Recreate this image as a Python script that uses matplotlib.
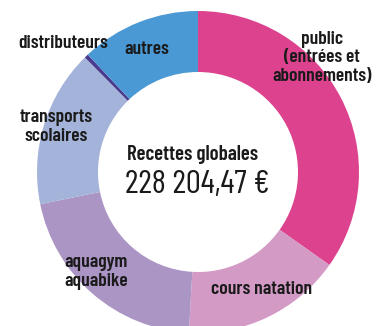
import matplotlib.pyplot as plt

# recettes de la piscine, part de chaque poste (%)
labels = ["public (entrées et abonnements)", "cours natation", "aquagym aquabike",
          "transports scolaires", "distributeurs", "autres"]
shares = [34.8, 16.1, 20.9, 15.8, 0.4, 12.0]
colors = ["#dc428e", "#d39ac6", "#ab95c5", "#a3b3d9", "#4a3b8f", "#4a98d4"]
total_label = "228 204,47 €"

W, H = 384, 326
fig = plt.figure(figsize=(W / 100, H / 100), dpi=100)
ax = fig.add_axes([0, 0, 1, 1])

ax.pie(shares, colors=colors, startangle=90, counterclock=False,
       radius=161, center=(198, H - 172),
       wedgeprops=dict(width=61, edgecolor="none"))
ax.set_xlim(0, W)
ax.set_ylim(0, H)
ax.axis("off")

FONT = ["Barlow Condensed", "DejaVu Sans"]
lab = dict(fontsize=14, fontweight=600, family=FONT, color="#1a1a1a",
           ha="center", va="center", linespacing=1.15)

def put(x, y, s, **kw):
    opts = dict(lab)
    opts.update(kw)
    ax.text(x, H - y, s, **opts)

put(322, 58, "public\n(entrées et\nabonnements)")
put(262, 289, "cours natation")
put(96, 272, "aquagym\naquabike")
put(56, 127, "transports\nscolaires")
put(63, 43, "distributeurs")
put(147, 49, "autres")

put(193, 154, "Recettes globales", fontsize=15)
put(197, 185, total_label, fontsize=24, fontweight=400)

fig.savefig("out.png", dpi=100)
